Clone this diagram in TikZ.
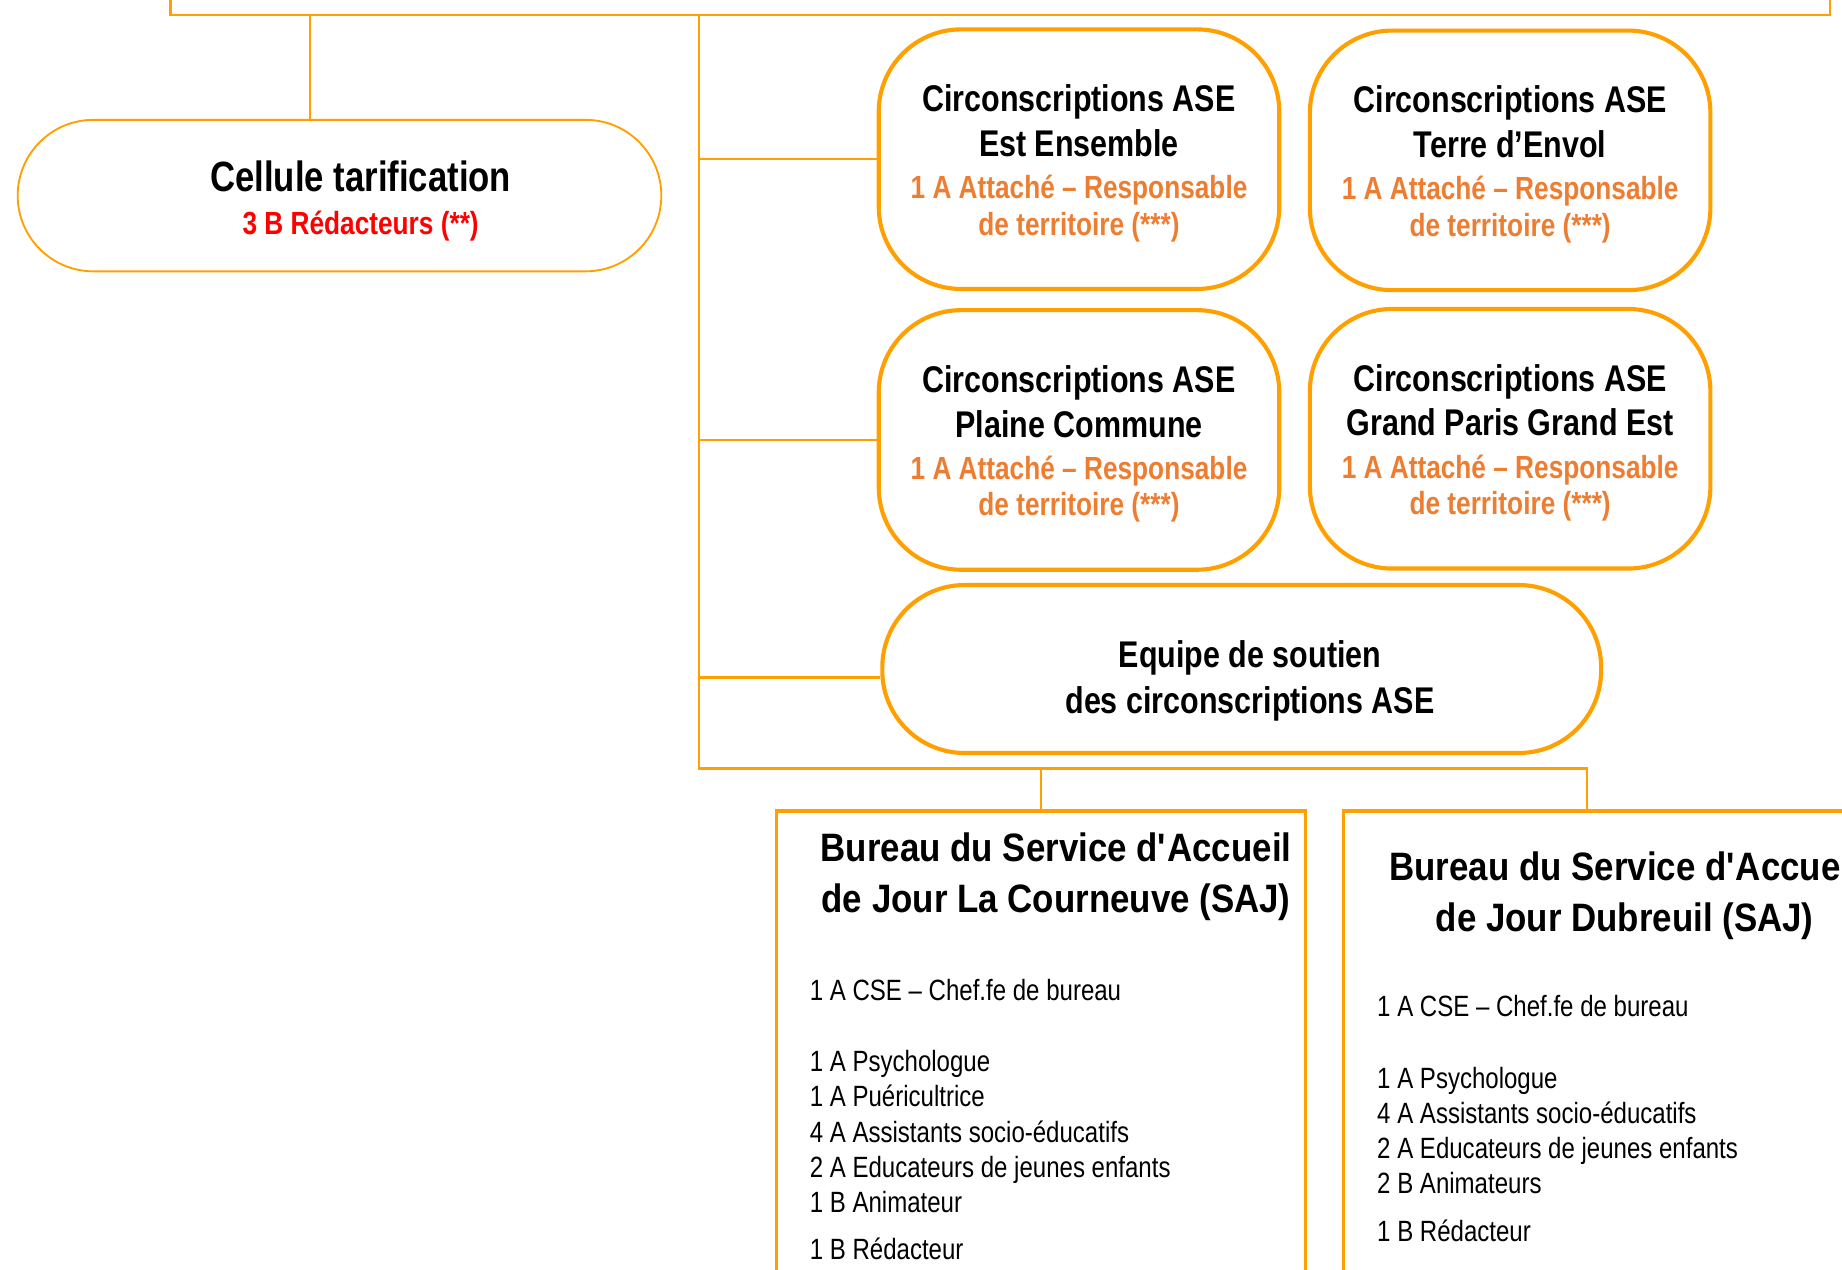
\documentclass[tikz,border=0pt]{standalone}
\usepackage{fontspec}
\setmainfont{Liberation Sans}
\newfontfamily\narrowsans[FakeStretch=0.82]{Liberation Sans}
\newfontfamily\bureausans[FakeStretch=0.88]{Liberation Sans}
\usetikzlibrary{positioning}
\definecolor{orgline}{RGB}{255,160,0}
\definecolor{orgtext}{RGB}{237,125,49}
\newcommand{\narrowspace}{\spaceskip=0.228em plus 0.1em minus 0.05em\relax}
\newcommand{\circtitle}{\narrowsans\bfseries\fontsize{18}{21.6}\selectfont\narrowspace}
\newcommand{\circsub}{\narrowsans\bfseries\fontsize{15.5}{17.6}\selectfont\narrowspace\color{orgtext}}
\newcommand{\bureautitle}{\bureausans\bfseries\fontsize{19.2}{24.5}\selectfont}
\newcommand{\staff}{\narrowsans\fontsize{14.2}{17}\selectfont\narrowspace}

\begin{document}
\begin{tikzpicture}[x=0.02cm, y=-0.02cm,
    link/.style={draw=orgline, line width=1.2pt},
    circ/.style={draw=orgline, line width=2pt, rounded corners=1.4cm, minimum width=6.82cm, minimum height=4.42cm, text width=6.6cm, align=flush center, inner sep=0pt},
    saj/.style={draw=orgline, line width=1.5pt, minimum width=9cm, minimum height=10cm, anchor=north west},
    stafflist/.style={anchor=north west, inner sep=0pt, text width=8cm, align=flush left, font=\staff}]
    \useasboundingbox (0,0) rectangle (1568,1081);
    \clip (0,0) rectangle (1568,1081);

    % direction (cut at the top)
    \node [draw=orgline, line width=1pt, minimum width=28.26cm, minimum height=3cm, anchor=south] (dir) at (851.5,14) {};

    % cellule tarification
    \node [draw=orgline, line width=0.9pt, rounded corners=1.29cm, minimum width=10.96cm, minimum height=2.58cm] (tarif) at (289,166.5) {};
    \node [align=flush center, text width=9cm, inner sep=0pt] (tariftext) at (307,171) {{\narrowsans\bfseries\fontsize{20.5}{24}\selectfont\narrowspace Cellule tarification\par}\vspace{2pt}{\narrowsans\bfseries\fontsize{15.5}{18.5}\selectfont\narrowspace\color{red} 3 B Rédacteurs (**)\par}};

    % circonscriptions
    \node [circ] (estens) at (918.5,135.5) {{\circtitle\rule{0pt}{17pt}Circonscriptions ASE\\Est Ensemble\par}\vspace{3pt}{\circsub 1 A Attaché – Responsable\\de territoire (***)\par}};
    \node [circ] (terre) at (1285.5,136.5) {{\circtitle\rule{0pt}{17pt}Circonscriptions ASE\\Terre d’Envol\par}\vspace{3pt}{\circsub 1 A Attaché – Responsable\\de territoire (***)\par}};
    \node [circ] (plaine) at (918.5,374.5) {{\circtitle\rule{0pt}{17pt}Circonscriptions ASE\\Plaine Commune\par}\vspace{3pt}{\circsub 1 A Attaché – Responsable\\de territoire (***)\par}};
    \node [circ] (gpge) at (1285.5,373.5) {{\circtitle\rule{0pt}{17pt}Circonscriptions ASE\\Grand Paris Grand Est\par}\vspace{3pt}{\circsub 1 A Attaché – Responsable\\de territoire (***)\par}};
    \node [circ, minimum width=12.24cm, minimum height=2.86cm, text width=12cm] (equipe) at (1057,569.5) {{\circtitle\baselineskip=22pt\rule{0pt}{24.5pt}\hspace*{8pt}Equipe de soutien\\\hspace*{8pt}des circonscriptions ASE\par}};

    % bureaux SAJ
    \node [saj] (saj1) at (660,689) {};
    \node [saj] (saj2) at (1142,689) {};
    \node [align=center, font=\bureautitle] (saj1title) at (899,746.5) {Bureau du Service d\textquotesingle Accueil\\de Jour La Courneuve (SAJ)};
    \node [align=center, font=\bureautitle] (saj2title) at (1383,762.5) {Bureau du Service d\textquotesingle Accueil\\de Jour Dubreuil (SAJ)};
    \node [stafflist] (saj1staff) at (689,833) {1 A CSE – Chef.fe de bureau\\[17.7pt]1 A Psychologue\\1 A Puéricultrice\\4 A Assistants socio-éducatifs\\2 A Educateurs de jeunes enfants\\1 B Animateur\\[6pt]1 B Rédacteur};
    \node [stafflist] (saj2staff) at (1172,847) {1 A CSE – Chef.fe de bureau\\[17.7pt]1 A Psychologue\\4 A Assistants socio-éducatifs\\2 A Educateurs de jeunes enfants\\2 B Animateurs\\[6pt]1 B Rédacteur};

    % liaisons
    \coordinate (tarifin) at (264,102);
    \coordinate (trunk) at (595,654);
    \coordinate (saj2in) at (1351,689);
    \coordinate (equipein) at ([yshift=-4pt]equipe.west);
    \draw [link] (tarifin |- dir.south) -- (tarifin);
    \draw [link] (trunk |- dir.south) -- (trunk) -- (trunk -| saj2in) -- (saj2in);
    \draw [link] (saj1.north |- trunk) -- (saj1.north);
    \draw [link] (trunk |- estens.west) -- (estens.west);
    \draw [link] (trunk |- plaine.west) -- (plaine.west);
    \draw [link] (trunk |- equipein) -- (equipein);
\end{tikzpicture}
\end{document}
